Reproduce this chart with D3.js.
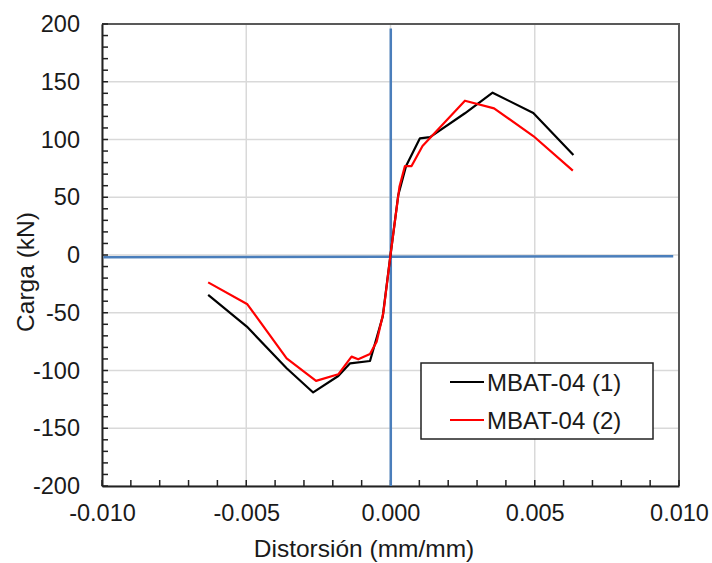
<!DOCTYPE html>
<html>
<head>
<meta charset="utf-8">
<script src="https://cdn.jsdelivr.net/npm/d3@7"></script>
<style>
	body { margin: 0; background: #ffffff; }
	svg { display: block; font-family: "Liberation Sans", Arial, sans-serif; }
</style>
</head>
<body>
<div id="chart"></div>
<script>
'use strict';

// Distorsion (mm/mm) vs Carga (kN)
const serie1X = [-0.00632, -0.00498, -0.00360, -0.00268, -0.00181, -0.00140, -0.00071, -0.00027, 0.00000, 0.00027, 0.00054, 0.00102, 0.00137, 0.00258, 0.00354, 0.00495, 0.00634];
const serie1Y = [-34.6, -62, -98, -119, -104.8, -93.8, -91.8, -53.4, 0, 52, 77, 101, 102, 122.7, 140.5, 123, 86.6];

const serie2X = [-0.00632, -0.00496, -0.00360, -0.00258, -0.00181, -0.00135, -0.00112, -0.00071, -0.00048, -0.00025, 0.00000, 0.00031, 0.00050, 0.00073, 0.00111, 0.00258, 0.00359, 0.00495, 0.00632];
const serie2Y = [-23.7, -42.7, -89.5, -109, -103.3, -88, -90.3, -85.7, -75, -50.5, 0, 59, 77, 77, 94.4, 133.6, 127, 103, 73];

// blue reference axes drawn as series
const ejeHX = [-0.00995, 0.00980];
const ejeHY = [-2, -1];
const ejeVX = [0.00001, 0.00001];
const ejeVY = [196, -200];

const seriesNames = ['MBAT-04 (1)', 'MBAT-04 (2)'];
const seriesColors = ['#000000', '#ff0000'];

const xTicks = [-0.010, -0.005, 0.000, 0.005, 0.010];
const yTicks = [-200, -150, -100, -50, 0, 50, 100, 150, 200];

const margin = {top: 24, right: 33, bottom: 77, left: 102};
const width = 712 - margin.left - margin.right;
const height = 563 - margin.top - margin.bottom;

const svg = d3.select('#chart').append('svg')
	.attr('width', 712)
	.attr('height', 563);

const g = svg.append('g')
	.attr('transform', 'translate(' + margin.left + ',' + margin.top + ')');

const x = d3.scaleLinear().domain([-0.010, 0.010]).range([0, width]);
const y = d3.scaleLinear().domain([-200, 200]).range([height, 0]);

g.append('rect')
	.attr('width', width)
	.attr('height', height)
	.attr('fill', '#ffffff');

// gridlines
g.append('g')
	.selectAll('line.gx')
	.data(xTicks)
	.join('line')
	.attr('x1', d => x(d)).attr('x2', d => x(d))
	.attr('y1', 0).attr('y2', height)
	.attr('stroke', '#d9d9d9')
	.attr('stroke-width', 1.5);

g.append('g')
	.selectAll('line.gy')
	.data(yTicks)
	.join('line')
	.attr('x1', 0).attr('x2', width)
	.attr('y1', d => y(d)).attr('y2', d => y(d))
	.attr('stroke', '#d9d9d9')
	.attr('stroke-width', 1.5);

// top and right border
g.append('path')
	.attr('d', 'M0,0H' + width + 'V' + height)
	.attr('fill', 'none')
	.attr('stroke', '#595959')
	.attr('stroke-width', 2);

// minor ticks (inside)
const xMinor = d3.range(-10, 11).map(d => d / 1000);
const yMinor = d3.range(-20, 21).map(d => d * 10);

const xAxis = d3.axisBottom(x)
	.tickValues(xTicks)
	.tickFormat(d3.format('.3f'))
	.tickSize(0)
	.tickPadding(18);

const yAxis = d3.axisLeft(y)
	.tickValues(yTicks)
	.tickFormat(d3.format('d'))
	.tickSize(0)
	.tickPadding(22);

const gx = g.append('g')
	.attr('transform', 'translate(0,' + height + ')')
	.call(xAxis);
gx.select('.domain').attr('stroke', '#222').attr('stroke-width', 2);
gx.selectAll('text')
	.attr('font-size', 23.5)
	.attr('fill', '#1a1a1a')
	.text(d => d3.format('.3f')(d).replace('−', '-'));

gx.selectAll('line.minor')
	.data(xMinor)
	.join('line')
	.attr('class', 'minor')
	.attr('x1', d => x(d)).attr('x2', d => x(d))
	.attr('y1', 0).attr('y2', -6)
	.attr('stroke', '#222')
	.attr('stroke-width', 1.5);

const gy = g.append('g').call(yAxis);
gy.select('.domain').attr('stroke', '#222').attr('stroke-width', 2);
gy.selectAll('text')
	.attr('font-size', 23.5)
	.attr('fill', '#1a1a1a')
	.text(d => String(d));

gy.selectAll('line.minor')
	.data(yMinor)
	.join('line')
	.attr('class', 'minor')
	.attr('x1', 0).attr('x2', 6)
	.attr('y1', d => y(d)).attr('y2', d => y(d))
	.attr('stroke', '#222')
	.attr('stroke-width', 1.5);

// blue axes
const lineDrawer = d3.line()
	.x(d => x(d[0]))
	.y(d => y(d[1]));

g.append('path')
	.attr('d', lineDrawer(d3.zip(ejeHX, ejeHY)))
	.attr('stroke', '#4a7ebb')
	.attr('stroke-width', 2.5)
	.attr('fill', 'none');

g.append('path')
	.attr('d', lineDrawer(d3.zip(ejeVX, ejeVY)))
	.attr('stroke', '#4a7ebb')
	.attr('stroke-width', 2.5)
	.attr('fill', 'none');

// data series
const allSeries = [d3.zip(serie1X, serie1Y), d3.zip(serie2X, serie2Y)];

allSeries.forEach((s, idx) => {
	g.append('path')
		.attr('d', lineDrawer(s))
		.attr('stroke', seriesColors[idx])
		.attr('stroke-width', 2.2)
		.attr('stroke-linejoin', 'round')
		.attr('fill', 'none');
});

// axis titles
svg.append('text')
	.attr('x', 364)
	.attr('y', 557)
	.attr('text-anchor', 'middle')
	.attr('font-size', 24.5)
	.attr('fill', '#1a1a1a')
	.text('Distorsión (mm/mm)');

svg.append('text')
	.attr('transform', 'translate(34,272) rotate(-90)')
	.attr('text-anchor', 'middle')
	.attr('font-size', 24.5)
	.attr('fill', '#1a1a1a')
	.text('Carga (kN)');

// legend
const legend = svg.append('g')
	.attr('transform', 'translate(421,363)');

legend.append('rect')
	.attr('width', 232)
	.attr('height', 76)
	.attr('fill', '#ffffff')
	.attr('stroke', '#222')
	.attr('stroke-width', 1.5);

seriesNames.forEach((name, idx) => {
	const row = legend.append('g')
		.attr('transform', 'translate(0,' + (19 + idx * 38) + ')');
	row.append('line')
		.attr('x1', 29).attr('x2', 63)
		.attr('y1', 0).attr('y2', 0)
		.attr('stroke', seriesColors[idx])
		.attr('stroke-width', 2.2);
	row.append('text')
		.attr('x', 66)
		.attr('y', 8.5)
		.attr('font-size', 24)
		.attr('fill', '#1a1a1a')
		.text(name);
});
</script>
</body>
</html>
